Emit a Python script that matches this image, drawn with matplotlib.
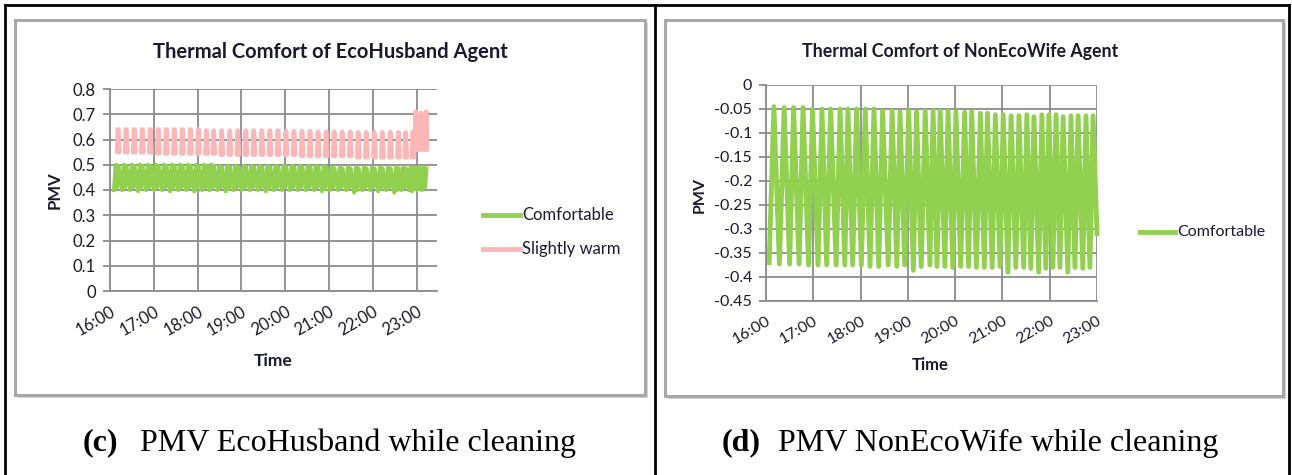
import numpy as np
import matplotlib
matplotlib.use("Agg")
import matplotlib.pyplot as plt
from matplotlib.patches import Rectangle
from matplotlib.lines import Line2D

W, H = 1292, 475

# ---------------- data ----------------
time_labels = ["16:00", "17:00", "18:00", "19:00", "20:00", "21:00", "22:00", "23:00"]
tick_minutes = [0, 60, 120, 180, 240, 300, 360, 420]

# Left chart (EcoHusband): "Slightly warm" spikes (minutes after 16:00)
warm_t = [11, 22, 33, 44, 55, 66, 77, 88, 99, 110, 121, 132, 142, 153, 164, 175, 186, 197, 208,
          219, 230, 241, 252, 263, 274, 285, 296, 307, 318, 329, 340, 351, 362, 373, 384, 395,
          405, 415, 419, 426, 433]
warm_top = [0.64, 0.64, 0.64, 0.64, 0.64, 0.64, 0.64, 0.64, 0.64, 0.64, 0.64, 0.635, 0.635, 0.635,
            0.635, 0.635, 0.635, 0.635, 0.635, 0.635, 0.635, 0.633, 0.633, 0.633, 0.633, 0.63, 0.63,
            0.63, 0.63, 0.63, 0.628, 0.628, 0.628, 0.628, 0.628, 0.628, 0.628, 0.63, 0.71, 0.705, 0.71]
warm_bot = [0.55, 0.55, 0.55, 0.55, 0.55, 0.545, 0.545, 0.545, 0.545, 0.545, 0.545, 0.545, 0.545,
            0.54, 0.54, 0.54, 0.54, 0.54, 0.54, 0.54, 0.54, 0.54, 0.54, 0.535, 0.535, 0.535, 0.535,
            0.535, 0.535, 0.535, 0.53, 0.53, 0.53, 0.53, 0.53, 0.53, 0.53, 0.53, 0.56, 0.56, 0.56]

# Left chart "Comfortable" zigzag: per-cycle highs and lows
comf_hi = [0.50, 0.50, 0.50, 0.50, 0.50, 0.50, 0.50, 0.50, 0.50, 0.50, 0.50, 0.50, 0.50, 0.495,
           0.495, 0.495, 0.495, 0.495, 0.495, 0.495, 0.495, 0.495, 0.495, 0.495, 0.495, 0.495,
           0.495, 0.49, 0.49, 0.49, 0.49, 0.49, 0.49, 0.49, 0.49, 0.49, 0.49, 0.49, 0.49, 0.49, 0.49]
comf_lo = [0.40, 0.40, 0.40, 0.395, 0.40, 0.40, 0.40, 0.395, 0.40, 0.40, 0.395, 0.40, 0.40, 0.40,
           0.395, 0.40, 0.40, 0.40, 0.40, 0.395, 0.40, 0.40, 0.40, 0.40, 0.40, 0.40, 0.395, 0.40,
           0.40, 0.40, 0.39, 0.40, 0.40, 0.395, 0.40, 0.39, 0.40, 0.40, 0.395, 0.40, 0.40]

# Right chart (NonEcoWife): peaks and troughs
wife_peak_t = [10, 23, 35, 47, 59, 71, 82, 94, 104, 115, 126, 137, 148, 160, 170, 181, 191, 202,
               212, 221, 231, 241, 252, 261, 272, 281, 291, 301, 311, 321, 331, 340, 350, 359,
               368, 377, 387, 396, 406, 415]
wife_peak_v = [-0.045, -0.047, -0.047, -0.047, -0.05, -0.05, -0.05, -0.05, -0.05, -0.05, -0.05,
               -0.05, -0.0535, -0.0535, -0.0555, -0.0535, -0.0555, -0.0535, -0.0535, -0.0535,
               -0.0535, -0.0555, -0.057, -0.0555, -0.059, -0.059, -0.062, -0.062, -0.064, -0.064,
               -0.062, -0.066, -0.062, -0.062, -0.062, -0.066, -0.064, -0.064, -0.064, -0.064]
wife_trough_t = [4, 17, 30, 42, 54, 66, 77, 89, 100, 110, 121, 132, 143, 155, 166, 176, 187, 197,
                 208, 217, 227, 237, 247, 257, 267, 277, 287, 297, 307, 317, 327, 336, 346, 355,
                 364, 373, 383, 392, 402, 411, 420]
wife_trough_v = [-0.37, -0.373, -0.373, -0.373, -0.375, -0.375, -0.375, -0.375, -0.375, -0.375,
                 -0.375, -0.378, -0.378, -0.375, -0.378, -0.375, -0.386, -0.378, -0.375, -0.378,
                 -0.378, -0.38, -0.378, -0.378, -0.38, -0.38, -0.38, -0.378, -0.39, -0.38,
                 -0.38, -0.382, -0.39, -0.382, -0.38, -0.38, -0.39, -0.38, -0.382, -0.38, -0.31]

GREEN = "#92D050"
PINK = "#FFB6B6"
GRID = "#8c8c8c"
TXT = "#1a1a2e"
XFONT = ["Lato", "DejaVu Sans"]

fig = plt.figure(figsize=(W / 100, H / 100), dpi=100)


def fx(x):
    return x / W


def fy(y):
    return 1 - y / H


def frame(x0, y0, x1, y1):
    fig.patches.append(Rectangle((fx(x0 + 3), fy(y1 + 3)), fx(x1 - x0), (y1 - y0) / H,
                                 transform=fig.transFigure, facecolor="#d4d4d4",
                                 edgecolor="none", zorder=-3))
    fig.patches.append(Rectangle((fx(x0), fy(y1)), fx(x1 - x0), (y1 - y0) / H,
                                 transform=fig.transFigure, facecolor="white",
                                 edgecolor="#a8a8a8", lw=2.2, zorder=-2))


def add_ax(x0, y0, x1, y1):
    ax = fig.add_axes([fx(x0), fy(y1), fx(x1 - x0), (y1 - y0) / H])
    ax.set_zorder(3)
    ax.patch.set_alpha(0)
    return ax


def style(ax, vgrid, fs):
    for s in ["top", "right"]:
        ax.spines[s].set_visible(False)
    for s in ["left", "bottom"]:
        ax.spines[s].set_color(GRID)
        ax.spines[s].set_linewidth(1.3)
    ax.yaxis.grid(True, color=GRID, lw=1.3)
    ax.xaxis.grid(vgrid, color=GRID, lw=1.3)
    ax.set_axisbelow(True)
    ax.tick_params(axis="y", length=5, color=GRID, width=1.3, labelsize=fs,
                   labelcolor=TXT, pad=5)
    ax.tick_params(axis="x", length=0, labelsize=fs, labelcolor=TXT, pad=9)
    ax.set_xticks(tick_minutes)
    ax.set_xticklabels(time_labels, rotation=30, ha="right", va="top",
                       rotation_mode="anchor", family=XFONT)


# table lines
fig.add_artist(Line2D([fx(5), fx(5)], [0, fy(5)], color="black", lw=2))
fig.add_artist(Line2D([fx(655), fx(655)], [0, fy(5)], color="black", lw=2))
fig.add_artist(Line2D([fx(1289), fx(1289)], [0, fy(5)], color="black", lw=2))
fig.add_artist(Line2D([fx(5), fx(1289)], [fy(5), fy(5)], color="black", lw=2))

# ---------------- left chart ----------------
frame(15, 20, 645, 395)
ax1 = add_ax(110, 89, 437, 291)
style(ax1, True, 12)
ax1.set_xlim(0, 448)
ax1.set_ylim(0, 0.8)
ax1.set_yticks([0, 0.1, 0.2, 0.3, 0.4, 0.5, 0.6, 0.7, 0.8])
ax1.set_yticklabels(["0", "0.1", "0.2", "0.3", "0.4", "0.5", "0.6", "0.7", "0.8"], family=XFONT)

gx, gy = [], []
for t, hi, lo in zip(warm_t, comf_hi, comf_lo):
    gx += [t - 5.5, t - 3.0, t - 1.5, t + 0.5]
    gy += [lo, hi, lo + 0.01, hi - 0.005]
ax1.plot(gx, gy, color=GREEN, lw=3, solid_joinstyle="round")

px, py = [], []
for t, top, bot in zip(warm_t, warm_top, warm_bot):
    px += [t - 1.2, t, t + 1.6, np.nan]
    py += [bot, top, bot, np.nan]
ax1.plot(px, py, color=PINK, lw=3.4, solid_capstyle="round", solid_joinstyle="round")

fig.text(fx(330), fy(52), "Thermal Comfort of EcoHusband Agent", ha="center", va="center",
         fontsize=14.5, fontweight="bold", color=TXT, family=XFONT)
fig.text(fx(55), fy(190), "PMV", ha="center", va="center", rotation=90, fontsize=12,
         fontweight="bold", color=TXT, family=XFONT)
fig.text(fx(273), fy(361), "Time", ha="center", va="center", fontsize=12.5,
         fontweight="bold", color=TXT, family=XFONT)
fig.add_artist(Line2D([fx(483), fx(520)], [fy(215), fy(215)], color=GREEN, lw=3.5))
fig.text(fx(522), fy(215), "Comfortable", ha="left", va="center", fontsize=12,
         color=TXT, family=XFONT)
fig.add_artist(Line2D([fx(483), fx(520)], [fy(249), fy(249)], color=PINK, lw=3.5))
fig.text(fx(522), fy(249), "Slightly warm", ha="left", va="center", fontsize=12,
         color=TXT, family=XFONT)

# ---------------- right chart ----------------
frame(665, 20, 1283, 396)
ax2 = add_ax(766, 85, 1097, 301)
style(ax2, False, 11.5)
ax2.set_xlim(0, 420)
ax2.set_ylim(-0.45, 0)
ax2.set_yticks([0, -0.05, -0.1, -0.15, -0.2, -0.25, -0.3, -0.35, -0.4, -0.45])
ax2.set_yticklabels(["0", "-0.05", "-0.1", "-0.15", "-0.2", "-0.25", "-0.3", "-0.35", "-0.4",
                     "-0.45"], family=XFONT)

wx, wy = [], []
for i in range(len(wife_peak_t)):
    wx += [wife_trough_t[i], wife_peak_t[i]]
    wy += [wife_trough_v[i], wife_peak_v[i]]
wx.append(wife_trough_t[-1])
wy.append(wife_trough_v[-1])
ax2.plot(wx, wy, color=GREEN, lw=3.5, solid_joinstyle="round", clip_on=False)

fig.text(fx(960), fy(52), "Thermal Comfort of NonEcoWife Agent", ha="center", va="center",
         fontsize=12.8, fontweight="bold", color=TXT, family=XFONT)
fig.text(fx(700), fy(195), "PMV", ha="center", va="center", rotation=90, fontsize=11.5,
         fontweight="bold", color=TXT, family=XFONT)
fig.text(fx(930), fy(365), "Time", ha="center", va="center", fontsize=12,
         fontweight="bold", color=TXT, family=XFONT)
fig.add_artist(Line2D([fx(1140), fx(1175)], [fy(232), fy(232)], color=GREEN, lw=3.5))
fig.text(fx(1177), fy(232), "Comfortable", ha="left", va="center", fontsize=11.5,
         color=TXT, family=XFONT)

# ---------------- captions ----------------
SERIF = ["Liberation Serif", "DejaVu Serif"]
CAP_FS = 23
fig.text(fx(83), fy(443), "(c)", ha="left", va="center", fontsize=CAP_FS, fontweight="bold",
         family=SERIF, color="black")
fig.text(fx(140), fy(443), "PMV EcoHusband while cleaning", ha="left", va="center",
         fontsize=CAP_FS, family=SERIF, color="black")
fig.text(fx(722), fy(443), "(d)", ha="left", va="center", fontsize=CAP_FS, fontweight="bold",
         family=SERIF, color="black")
fig.text(fx(778), fy(443), "PMV NonEcoWife while cleaning", ha="left", va="center",
         fontsize=CAP_FS, family=SERIF, color="black")

fig.savefig("out.png", dpi=100)
